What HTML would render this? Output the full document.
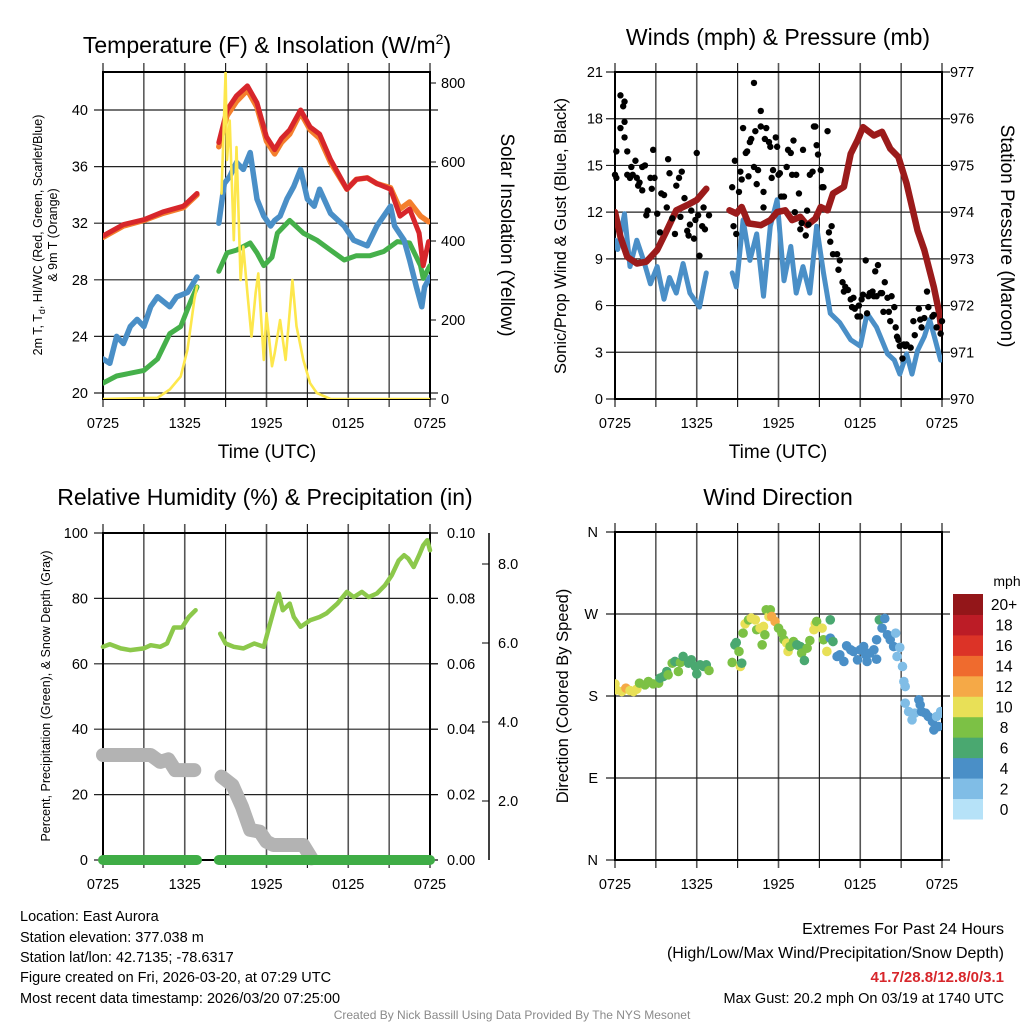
<!DOCTYPE html>
<html><head><meta charset="utf-8"><style>
html,body{margin:0;padding:0;background:#fff;}
svg{display:block;font-family:"Liberation Sans",Arial,sans-serif;}
</style></head><body>
<svg id="c" width="1024" height="1024" viewBox="0 0 1024 1024" xmlns="http://www.w3.org/2000/svg">
<defs>
<clipPath id="cp1"><rect x="103" y="72" width="327" height="327"/></clipPath>
<clipPath id="cp2"><rect x="615" y="72" width="327" height="327"/></clipPath>
<clipPath id="cp3"><rect x="95" y="525" width="345" height="345"/></clipPath>
<clipPath id="cp4"><rect x="615" y="532" width="327" height="328"/></clipPath>
</defs>
<text x="267" y="53" font-size="23" text-anchor="middle">Temperature (F) &amp; Insolation (W/m<tspan font-size="14" dy="-9">2</tspan><tspan dy="9">)</tspan></text>
<text x="778" y="45" font-size="23" text-anchor="middle">Winds (mph) &amp; Pressure (mb)</text>
<text x="265" y="505" font-size="23" text-anchor="middle">Relative Humidity (%) &amp; Precipitation (in)</text>
<text x="778" y="505" font-size="23" text-anchor="middle">Wind Direction</text>

<text x="267" y="458" font-size="19" text-anchor="middle">Time (UTC)</text>
<text x="778" y="458" font-size="19" text-anchor="middle">Time (UTC)</text>

<text transform="translate(42,235) rotate(-90)" font-size="12.5" text-anchor="middle">2m T, T<tspan font-size="9" dy="3">d</tspan><tspan dy="-3">, HI/WC (Red, Green, Scarlet/Blue)</tspan></text>
<text transform="translate(57,235) rotate(-90)" font-size="12.5" text-anchor="middle">&amp; 9m T (Orange)</text>
<text transform="translate(501,235) rotate(90)" font-size="19" text-anchor="middle">Solar Insolation (Yellow)</text>
<text transform="translate(566,236) rotate(-90)" font-size="16.5" text-anchor="middle">Sonic/Prop Wind &amp; Gust (Blue, Black)</text>
<text transform="translate(1001,236) rotate(90)" font-size="19" text-anchor="middle">Station Pressure (Maroon)</text>
<text transform="translate(50,696) rotate(-90)" font-size="12.5" text-anchor="middle">Percent, Precipitation (Green), &amp; Snow Depth (Gray)</text>
<text transform="translate(568,696) rotate(-90)" font-size="16.5" text-anchor="middle">Direction (Colored By Speed)</text>

<g font-size="14.5">
<text x="20" y="921">Location: East Aurora</text>
<text x="20" y="942">Station elevation: 377.038 m</text>
<text x="20" y="962">Station lat/lon: 42.7135; -78.6317</text>
<text x="20" y="982">Figure created on Fri, 2026-03-20, at 07:29 UTC</text>
<text x="20" y="1003">Most recent data timestamp: 2026/03/20 07:25:00</text>
</g>
<g text-anchor="end">
<text x="1004" y="934" font-size="16">Extremes For Past 24 Hours</text>
<text x="1004" y="958" font-size="16">(High/Low/Max Wind/Precipitation/Snow Depth)</text>
<text x="1004" y="982" font-size="15" font-weight="bold" fill="#d7262b">41.7/28.8/12.8/0/3.1</text>
<text x="1004" y="1003" font-size="14.5">Max Gust: 20.2 mph On 03/19 at 1740 UTC</text>
</g>
<text x="512" y="1019" font-size="12" fill="#8a8a8a" text-anchor="middle">Created By Nick Bassill Using Data Provided By The NYS Mesonet</text>
</svg>
<script>
// ---------- Panel 1: temperature & insolation ----------
var tempRedT = [0,1.5,3.0,4.4,5.9,6.9,null,8.5,9.1,9.8,10.6,11.3,12.0,12.6,13.1,13.7,14.5,15.2,15.9,16.7,17.9,18.6,19.4,20.1,21.1,21.8,22.5,23.2,23.5,23.9];
var tempRedV = [31.1,31.9,32.25,32.8,33.2,34.1,null,37.7,40.0,41.0,41.7,40.5,38.1,37.2,38.0,38.6,40.0,38.8,38.3,36.5,34.4,35.1,35.2,34.8,34.4,32.5,33.0,31.3,29.0,30.7];
var tempOrangeT = [0,1.5,3.0,4.4,5.9,6.9,null,8.5,9.1,9.8,10.6,11.3,12.0,12.6,13.1,13.7,14.5,15.2,15.9,16.7,17.9,18.6,19.4,20.1,21.1,21.8,22.5,23.3,23.9];
var tempOrangeV = [31.0,31.8,32.2,32.7,33.1,34.0,null,37.4,39.6,40.6,41.4,40.2,37.8,36.9,37.7,38.3,39.8,38.6,38.0,36.3,34.4,35.1,35.2,34.8,34.5,33.0,33.5,32.5,32.1];
var tempBlueT = [0,0.5,1.0,1.5,2.0,2.5,3.0,3.5,4.0,4.9,5.4,6.2,6.9,null,8.5,8.9,9.3,9.8,10.3,10.8,11.3,11.8,12.3,12.6,13.0,13.5,14.0,14.5,15.0,15.5,15.9,16.7,17.7,18.4,19.4,20.1,20.6,21.1,21.4,22.1,22.5,23.0,23.4,23.6,24.0];
var tempBlueV = [22.4,22.1,24.0,23.5,24.7,25.2,24.7,26.1,26.8,26.1,26.8,27.1,28.2,null,32.0,34.8,35.3,36.3,35.8,37.0,33.7,32.5,31.8,32.2,32.5,33.7,34.6,35.8,33.7,33.2,34.4,32.7,31.8,30.8,30.4,31.8,32.5,33.2,31.8,30.8,29.4,27.5,26.1,27.5,28.2];
var tempGreenT = [0,1.0,2.0,3.0,4.0,4.9,5.7,6.4,6.9,null,8.5,9.1,9.8,10.8,11.3,11.8,12.4,12.8,13.7,14.7,15.7,16.7,17.7,18.6,19.6,20.6,21.6,22.5,23.3,23.5,24.0];
var tempGreenV = [20.7,21.2,21.4,21.6,22.4,24.2,24.7,26.4,27.5,null,28.6,29.9,30.1,30.6,29.9,29.0,29.6,31.3,32.2,31.3,30.8,30.1,29.4,29.7,29.7,30.0,30.7,30.6,29.0,28.1,29.0];
var solarT = [0,4.0,4.9,5.7,6.2,6.7,6.9,null,8.7,9.0,9.1,9.3,9.6,9.8,10.1,10.3,10.6,10.9,11.2,11.4,11.8,12.0,12.4,12.6,13.0,13.4,13.9,14.2,14.7,15.2,15.7,16.7,24];
var solarV = [0,3,24,57,125,251,285,null,520,828,605,705,402,638,301,386,268,158,268,318,99,217,83,116,200,99,301,184,99,40,15,0,0];
var tempTicks = [20,24,28,32,36,40];
var solarTicks = [0,200,400,600,800];
var timeTickHours = [0,6,12,18,24];
var timeTickLabels = ["0725","1325","1925","0125","0725"];

// ---------- Panel 2: winds & pressure ----------
var windT = [0,0.2,0.7,1.1,1.6,2.1,2.6,3.1,3.6,4.0,4.5,5.0,5.5,6.2,6.7,null,8.6,8.9,9.4,9.9,10.4,10.9,11.4,11.9,12.4,12.9,13.3,13.8,14.3,14.8,15.3,15.8,16.5,17.3,18.0,18.5,19.2,20.0,20.5,20.9,21.4,21.8,22.2,22.7,23.1,23.5,23.9];
var windV = [10.2,9.6,11.9,8.5,10.2,8.9,7.4,8.5,6.4,7.8,6.8,8.7,6.8,5.9,8.1,null,8.1,7.2,11.5,8.9,10.6,6.6,11.1,12.8,7.6,9.8,6.8,8.5,6.8,11.1,8.1,5.5,4.9,3.8,3.4,5.5,4.6,2.9,2.5,1.6,2.9,1.6,3.1,4.0,5.1,3.8,2.5];
var pressT = [0,0.4,0.9,1.6,2.3,3.1,3.8,4.5,5.3,6.0,6.7,null,8.4,8.9,9.3,9.8,10.7,11.4,11.9,12.5,13.0,13.6,14.1,14.7,15.1,15.6,16.0,16.8,17.3,17.8,18.2,19.0,19.6,20.2,20.8,21.4,22.2,22.7,23.4,23.8,24.0];
var pressV = [974.0,973.47,973.04,972.9,972.94,973.19,973.61,974.04,974.15,974.26,974.5,null,974.04,973.97,974.11,973.76,973.72,973.83,974.0,974.04,973.83,973.9,973.72,973.86,974.11,974.04,974.4,974.54,975.25,975.54,975.82,975.64,975.72,975.36,975.18,974.61,973.61,973.19,972.4,971.83,971.4];
var gustT = [0,0.1,0.1,0.4,0.4,0.6,0.7,0.7,0.7,0.9,0.9,1.1,1.2,1.3,1.5,1.6,1.7,1.8,2.0,2.0,2.2,2.3,2.4,2.6,2.7,2.8,2.9,3.1,3.3,3.4,3.6,3.8,3.9,4.0,4.2,4.4,4.5,4.7,4.8,4.9,5.1,5.3,5.4,5.5,5.6,5.8,5.9,6.0,6.1,6.2,6.4,6.5,6.6,6.9,
8.6,8.7,8.8,8.9,9.1,9.2,9.3,9.4,9.6,9.7,9.8,9.9,10.0,10.2,10.2,10.3,10.4,10.5,10.7,10.7,10.9,10.9,11.0,11.1,11.3,11.4,11.5,11.6,11.8,11.9,12.0,12.1,12.2,12.4,12.6,12.7,12.9,13.0,13.1,13.2,13.3,13.5,13.6,13.7,13.8,14.0,14.1,14.2,14.3,14.5,14.6,14.7,14.8,14.9,15.1,15.2,15.3,15.6,15.7,15.8,15.9,16.0,16.3,16.4,16.5,16.7,16.8,16.9,17.1,17.3,17.4,17.5,17.6,17.8,17.9,18.0,18.1,18.2,18.4,18.5,18.6,18.7,18.9,19.0,19.1,19.2,19.3,19.5,19.6,19.7,19.8,20.0,20.1,20.2,20.3,20.5,20.6,20.7,20.8,20.9,21.1,21.2,21.3,21.4,21.7,21.9,22.0,22.3,22.4,22.5,22.7,22.9,23.0,23.3,23.4,23.6,23.9,24.0];
var gustV = [14.4,14.2,15.9,17.4,19.5,18.8,17.8,19.1,16.8,15.9,14.4,14.2,14.9,14.4,15.3,14.2,13.7,13.9,14.9,13.4,15.0,11.8,12.1,14.2,13.5,16.0,14.2,11.9,10.7,13.2,13.1,12.3,15.4,14.5,11.6,10.6,13.7,14.2,11.7,14.6,12.9,10.8,10.5,11.2,12.1,10.3,11.5,15.8,11.8,9.2,11.1,12.3,10.9,11.8,
13.6,11.1,15.3,10.6,13.3,14.6,14.1,17.4,15.8,15.9,14.3,16.5,16.7,14.9,20.3,17.2,13.8,14.7,17.5,18.5,12.3,13.3,16.7,17.4,16.5,16.2,14.2,14.7,16.8,16.2,14.4,14.5,13.0,13.0,14.9,16.0,15.8,14.4,16.6,12.0,14.4,13.2,10.9,11.3,16.0,10.5,12.1,11.2,14.4,14.6,17.5,17.5,16.3,15.7,14.7,13.6,13.6,17.2,10.7,10.1,11.1,9.3,9.3,8.3,8.9,7.5,6.9,7.2,7.0,6.4,5.9,6.5,5.8,5.3,6.0,5.3,6.4,6.7,8.9,5.5,6.6,6.8,6.9,6.6,8.2,6.6,8.6,6.8,6.8,5.6,7.5,6.5,5.6,5.0,6.6,5.9,4.6,4.0,3.8,3.4,2.6,3.5,3.4,3.5,3.3,5.0,4.1,5.8,5.1,4.6,5.2,6.9,5.9,5.3,5.4,4.6,4.2,5.0];
var windTicks = [0,3,6,9,12,15,18,21];
var pressTicks = [970,971,972,973,974,975,976,977];

// ---------- Panel 3: humidity, precipitation, snow ----------
var rhT = [0,0.5,1.3,2.0,3.0,3.5,4.2,4.7,5.2,5.8,6.3,6.8,null,8.6,9.0,9.6,10.3,11.1,11.8,12.2,12.6,12.9,13.2,13.7,14.0,14.5,15.2,15.9,16.4,17.2,17.9,18.4,19.0,19.5,20.1,20.7,21.2,21.7,22.1,22.4,22.8,23.2,23.5,23.8,24.0];
var rhV = [65.2,66,64.7,64.2,64.7,65.7,65.2,66.2,71.1,71.1,74.3,76.4,null,69.2,66.2,65.2,64.7,66.2,65.2,71.3,77.4,81.5,76.4,78.4,74.3,71.3,73.3,74.3,75.4,78.4,82.0,80.4,82.0,80.4,81.5,84.0,87.1,91.6,93.2,92.2,89.6,93.2,96.2,97.8,94.7];
var precipT = [0,6.9,null,8.5,24];
var precipV = [0,0,null,0,0];
var snowT = [0,3.5,4.2,4.8,5.3,6.7,null,8.7,9.5,10.2,10.8,11.5,12.0,12.5,14.7,15.3];
var snowPct = [32.1,32.1,30.0,30.8,27.5,27.5,null,25.5,22.9,16.3,9.2,8.7,5.6,4.6,4.6,0.5];
var rhTicks = [0,20,40,60,80,100];
var precipTicks = [0.00,0.02,0.04,0.06,0.08,0.10];
var snowTicks = [2.0,4.0,6.0,8.0];

// ---------- Panel 4: wind direction ----------
var dirT = [0.0,0.1,0.5,0.8,1.1,1.35,1.6,1.8,2.2,2.45,2.8,3.2,3.3,3.55,3.8,3.9,4.2,4.4,4.65,4.8,5.0,5.4,5.6,5.9,6.0,6.25,6.5,6.7,6.9,
8.6,8.8,8.9,9.1,9.2,9.3,9.4,9.55,9.8,10.0,10.3,10.4,10.65,10.8,10.9,11.0,11.1,11.3,11.4,11.5,11.75,12.0,12.25,12.4,12.6,12.7,12.85,13.1,13.35,13.6,13.7,13.9,14.1,14.3,14.6,14.7,14.8,15.2,15.3,15.55,15.8,15.8,16.0,16.3,16.5,16.8,17.0,17.3,17.5,17.8,18.0,18.25,18.4,18.5,18.7,19.0,19.2,19.2,19.4,19.6,19.8,20.0,20.2,20.45,20.6,20.7,20.9,21.1,21.2,21.3,21.3,21.55,21.8,22.0,22.3,22.4,22.5,22.8,23.0,23.3,23.4,23.6,23.75,23.9,24.0];
var dirDeg = [193.3,186.7,184.9,188.6,186.0,184.9,187.5,194.1,192.2,195.9,193.3,194.1,199.6,201.4,206.9,203.2,216.0,217.9,206.9,216.8,223.4,216.0,219.7,212.4,204.3,214.2,212.4,214.2,208.0,
216.8,236.2,238.7,228.9,212.4,216.0,249.0,259.2,263.6,265.5,263.6,252.7,254.5,236.2,256.3,247.2,274.6,267.3,274.6,267.3,261.8,254.5,249.0,241.7,238.0,228.9,234.3,239.8,236.2,234.3,227.0,219.0,232.5,240.9,252.7,259.2,261.8,254.5,241.7,228.9,263.6,243.5,239.8,223.4,225.2,217.9,235.1,230.7,228.9,219.7,230.7,234.3,225.2,217.9,227.0,230.7,220.4,241.7,263.6,254.5,265.1,247.2,241.7,234.3,249.0,223.4,233.3,212.4,195.9,190.4,172.1,162.9,153.8,161.1,175.8,170.3,162.9,161.1,157.5,152.0,142.8,157.5,146.5,162.9,161.1];
var dirSpeed = [10,10,10,13,10,10,10,8,8,8,8,8,7,6,6,8,8,6,8,8,6,6,6,6,6,6,6,6,8,
8,6,6,8,10,6,8,10,8,10,10,8,10,8,10,8,8,10,8,13,13,8,8,8,10,10,8,8,6,6,8,6,8,8,10,10,8,10,8,10,6,4,6,4,4,4,4,4,4,4,4,4,4,4,4,4,4,4,6,4,4,4,4,4,2,2,2,2,2,2,2,2,2,2,4,4,4,4,4,4,4,2,4,2,2];
var dirTicks = [0,90,180,270,360];
var dirTickLabels = ["N","E","S","W","N"];
var speedBinLabels = ["0","2","4","6","8","10","12","14","16","18","20+"];
var speedBinColors = ["#b6e2f8","#80bde6","#4a8fc7","#4aa870","#7cc145","#e8e057","#f5a947","#ef6b2e","#dc3327","#bc1c26","#931619"];

var NS = "http://www.w3.org/2000/svg";
var svg = document.getElementById("c");
function mk(tag, attrs, parent){ var e=document.createElementNS(NS,tag); for(var k in attrs) e.setAttribute(k,attrs[k]); (parent||svg).appendChild(e); return e; }
function scale(d0,d1,r0,r1){ return function(v){ return r0+(v-d0)/(d1-d0)*(r1-r0); }; }
function pathD(ts,vs,sx,sy){ var d="",pen=false; for(var i=0;i<ts.length;i++){ if(ts[i]===null||vs[i]===null){pen=false;continue;} d+=(pen?"L":"M")+sx(ts[i]).toFixed(1)+","+sy(vs[i]).toFixed(1); pen=true;} return d; }

function frame(g,x0,x1,y0,y1,sy,yticks,xsc){
  for(var h=0;h<=24;h+=3){ var x=xsc(h);
    var l=mk("line",{x1:x,x2:x,y1:y0-9,y2:y1+8,stroke:(h%6===0?"#555":"#111"),"stroke-width":(h%6===0?1.6:1.1)},g);
    
     }
  yticks.forEach(function(v){ var y=sy(v);
    var l=mk("line",{x1:x0-9,x2:x1+8,y1:y,y2:y,stroke:"#222","stroke-width":1.2},g);
    
     });
  var r=mk("rect",{x:x0,y:y0,width:x1-x0,height:y1-y0,fill:"none",stroke:"#000","stroke-width":2},g);
  
  
  timeTickHours.forEach(function(h,i){
    var t=mk("text",{x:xsc(h),y:y1+29,"font-size":14.5,"text-anchor":"middle"},g); t.textContent=timeTickLabels[i];
    
     });
}
function lbl(g,x,y,txt,anchor,name){ var t=mk("text",{x:x,y:y,"font-size":14.5,"text-anchor":anchor},g); t.textContent=txt;
  
   return t; }
function line(g,ts,vs,sx,sy,color,w,clip,name){ var p=mk("path",{d:pathD(ts,vs,sx,sy),fill:"none",stroke:color,"stroke-width":w,"stroke-linejoin":"round","stroke-linecap":"round","clip-path":clip},g);
  
   return p; }

// Panel 1
(function(){
  var g=mk("g",{});  
  var sx=scale(0,24,103,430), sy=scale(20,40,393,110), sy2=scale(0,800,399,83);
  frame(g,103,430,72,399,sy,tempTicks,sx);
  tempTicks.forEach(function(v){ lbl(g,88,sy(v)+5,String(v),"end","temperature-tick-label"); });
  solarTicks.forEach(function(v){ lbl(g,441,sy2(v)+5,String(v),"start","insolation-tick-label");
    mk("line",{x1:430,x2:436,y1:sy2(v),y2:sy2(v),stroke:"#000"},g); });
  line(g,tempGreenT,tempGreenV,sx,sy,"#45b04a",5,"url(#cp1)","dewpoint-line");
  line(g,tempBlueT,tempBlueV,sx,sy,"#4a8fc7",5.5,"url(#cp1)","windchill-line");
  line(g,tempOrangeT,tempOrangeV,sx,sy,"#f47f2d",5.5,"url(#cp1)","temp-9m-line");
  line(g,tempRedT,tempRedV,sx,sy,"#d7262b",5,"url(#cp1)","temp-2m-line");
  line(g,solarT,solarV,sx,sy2,"#fde74c",2.6,"url(#cp1)","insolation-line");
})();

// Panel 2
(function(){
  var g=mk("g",{});  
  var sx=scale(0,24,615,942), sy=scale(0,21,399,72), sy2=scale(970,977,399,72);
  frame(g,615,942,72,399,sy,windTicks,sx);
  windTicks.forEach(function(v){ lbl(g,603,sy(v)+5,String(v),"end","wind-tick-label"); });
  pressTicks.forEach(function(v){ lbl(g,950,sy2(v)+5,String(v),"start","pressure-tick-label"); });
  line(g,windT,windV,sx,sy,"#4a8fc7",5,"url(#cp2)","wind-speed-line");
  line(g,pressT,pressV,sx,sy2,"#9b1b1b",6.5,"url(#cp2)","pressure-line");
  for(var i=0;i<gustT.length;i++){
    var c=mk("circle",{cx:sx(gustT[i]),cy:sy(gustV[i]),r:3.2,fill:"#000"},g);
    
    
  }
})();

// Panel 3
(function(){
  var g=mk("g",{});  
  var sx=scale(0,24,103,430), sy=scale(0,100,860,533), syp=scale(0,0.10,860,533), sys=scale(0,2.0,880,801);
  frame(g,103,430,533,860,sy,rhTicks,sx);
  rhTicks.forEach(function(v){ lbl(g,88,sy(v)+5,String(v),"end","humidity-tick-label"); });
  precipTicks.forEach(function(v){ lbl(g,447,syp(v)+5,v.toFixed(2),"start","precip-tick-label");
    mk("line",{x1:430,x2:438,y1:syp(v),y2:syp(v),stroke:"#000"},g); });
  var ax=mk("line",{x1:489,x2:489,y1:533,y2:860,stroke:"#000","stroke-width":1.5},g);
  
  
  snowTicks.forEach(function(v){ lbl(g,498,sys(v)+5,v.toFixed(1),"start","snow-tick-label");
    mk("line",{x1:482,x2:489,y1:sys(v),y2:sys(v),stroke:"#000"},g); });
  line(g,snowT,snowPct,sx,sy,"#b3b3b3",14,"url(#cp3)","snow-depth-line");
  line(g,rhT,rhV,sx,sy,"#8cc84b",4.5,"url(#cp3)","humidity-line");
  line(g,precipT,precipV,sx,syp,"#3fad46",10,"url(#cp3)","precipitation-line");
})();

// Panel 4
(function(){
  var g=mk("g",{});  
  var sx=scale(0,24,615,942), sy=scale(0,360,860,532);
  frame(g,615,942,532,860,sy,dirTicks,sx);
  dirTicks.forEach(function(v,i){ lbl(g,598,sy(v)+5,dirTickLabels[i],"end","direction-tick-label"); });
  for(var i=0;i<dirT.length;i++){
    var b=Math.min(10,Math.floor(dirSpeed[i]/2));
    var c=mk("circle",{cx:sx(dirT[i]),cy:sy(dirDeg[i]),r:4.8,fill:speedBinColors[b],"clip-path":"url(#cp4)"},g);
    
    
  }
  var cb=mk("g",{});  
  var top=594, bh=(819-594)/11;
  for(var k=0;k<11;k++){
    var y=top+(10-k)*bh;
    var r=mk("rect",{x:953,y:y,width:30,height:bh+0.5,fill:speedBinColors[k]},cb);
    
    
    lbl(cb,1004,y+bh/2+6,speedBinLabels[k],"middle","colorbar-label").setAttribute("font-size","15.5");
  }
  lbl(cb,1007,586,"mph","middle","colorbar-unit").setAttribute("font-size","14");
})();
</script>
</body></html>
